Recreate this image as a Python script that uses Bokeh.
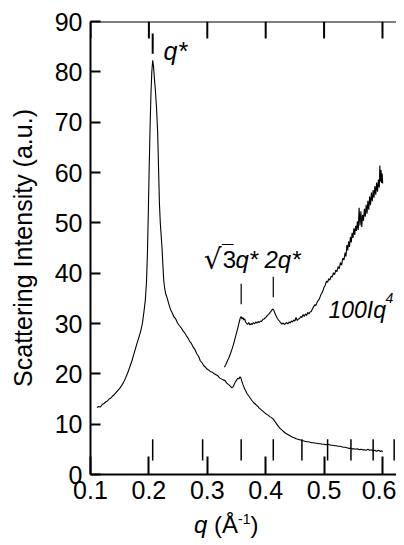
import math
from bokeh.plotting import figure
from bokeh.models import Label, Range1d, FixedTicker, Span, Div
from bokeh.layouts import column
from bokeh.embed import file_html
from bokeh.resources import INLINE

# ---- data ----
q_low = [0.1110, 0.1140, 0.1170, 0.1200, 0.1230, 0.1260, 0.1290, 0.1320, 0.1350, 0.1380,
         0.1410, 0.1440, 0.1470, 0.1500, 0.1530, 0.1560, 0.1590, 0.1620, 0.1650, 0.1680,
         0.1710, 0.1740, 0.1770, 0.1800, 0.1830, 0.1860, 0.1890, 0.1915, 0.1940, 0.1960,
         0.1975, 0.1990, 0.2005, 0.2020, 0.2035, 0.2050, 0.2065, 0.2080, 0.2095, 0.2110,
         0.2130, 0.2150, 0.2165, 0.2180, 0.2195, 0.2210, 0.2225, 0.2240, 0.2255, 0.2270,
         0.2290, 0.2315, 0.2340, 0.2370, 0.2400, 0.2430, 0.2460, 0.2490, 0.2520, 0.2550,
         0.2580, 0.2610, 0.2640, 0.2670, 0.2700, 0.2730, 0.2760, 0.2790, 0.2820, 0.2850,
         0.2880, 0.2910, 0.2940, 0.2970, 0.3000, 0.3030, 0.3060, 0.3090, 0.3120, 0.3150,
         0.3180, 0.3210, 0.3240, 0.3270, 0.3300, 0.3330, 0.3360, 0.3390, 0.3420, 0.3440,
         0.3460, 0.3480, 0.3500, 0.3520, 0.3540, 0.3560, 0.3575, 0.3590, 0.3610, 0.3630,
         0.3650, 0.3680, 0.3710, 0.3740, 0.3770, 0.3800, 0.3830, 0.3860, 0.3890, 0.3920,
         0.3950, 0.3980, 0.4010, 0.4040, 0.4070, 0.4100, 0.4130, 0.4160, 0.4190, 0.4220,
         0.4250, 0.4280, 0.4310, 0.4340, 0.4370, 0.4400, 0.4430, 0.4460, 0.4490, 0.4520,
         0.4550, 0.4580, 0.4610, 0.4640, 0.4670, 0.4700, 0.4730, 0.4760, 0.4790, 0.4820,
         0.4850, 0.4880, 0.4910, 0.4940, 0.4970, 0.5000, 0.5030, 0.5060, 0.5090, 0.5120,
         0.5150, 0.5180, 0.5210, 0.5240, 0.5270, 0.5300, 0.5330, 0.5360, 0.5390, 0.5420,
         0.5450, 0.5480, 0.5510, 0.5540, 0.5570, 0.5600, 0.5630, 0.5660, 0.5690, 0.5720,
         0.5750, 0.5780, 0.5810, 0.5840, 0.5870, 0.5900, 0.5930, 0.5960, 0.5990, 0.6003]
i_low = [13.3, 13.5, 13.4, 13.9, 14.1, 14.4, 14.6, 15.0, 15.2, 15.6,
         15.9, 16.3, 16.7, 17.1, 17.6, 18.2, 18.9, 19.7, 20.6, 21.6,
         22.6, 23.8, 25.0, 26.2, 27.3, 28.5, 30.1, 32.3, 34.8, 38.5,
         44.0, 52.0, 61.0, 69.0, 75.5, 80.0, 82.3, 81.0, 78.5, 76.5,
         73.0, 68.0, 61.0, 54.0, 50.0, 47.5, 45.0, 41.5, 38.5, 37.0,
         35.8, 35.0, 33.9, 32.8, 32.1, 31.3, 30.9, 30.1, 29.6, 29.2,
         28.6, 28.2, 27.6, 27.1, 26.4, 26.0, 25.3, 24.8, 24.0, 23.5,
         22.6, 22.2, 21.6, 21.3, 20.9, 20.7, 20.4, 20.3, 20.0, 19.8,
         19.6, 19.2, 19.0, 18.8, 18.7, 18.2, 17.9, 17.6, 17.2, 17.4,
         17.9, 18.4, 18.7, 19.1, 19.0, 19.4, 19.2, 18.6, 17.9, 17.3,
         16.8, 16.1, 15.6, 15.1, 14.6, 14.2, 13.9, 13.6, 13.2, 12.9,
         12.6, 12.3, 12.0, 11.8, 11.5, 11.3, 11.0, 10.5, 10.0, 9.5,
         9.1, 8.8, 8.5, 8.2, 8.0, 7.8, 7.6, 7.4, 7.3, 7.1,
         7.0, 6.9, 6.8, 6.7, 6.6, 6.5, 6.5, 6.4, 6.3, 6.3,
         6.2, 6.2, 6.1, 6.1, 6.0, 6.0, 5.9, 6.0, 5.9, 5.8,
         5.8, 5.7, 5.7, 5.6, 5.6, 5.5, 5.4, 5.4, 5.3, 5.2,
         5.2, 5.1, 5.1, 5.0, 5.1, 4.9, 5.0, 4.9, 4.9, 4.8,
         5.0, 4.8, 4.9, 4.7, 4.8, 4.6, 4.8, 4.6, 4.7, 4.5]

q_up = [0.3294, 0.3320, 0.3345, 0.3370, 0.3396, 0.3420, 0.3445, 0.3470, 0.3495, 0.3520,
        0.3545, 0.3565, 0.3580, 0.3595, 0.3610, 0.3625, 0.3640, 0.3655, 0.3670, 0.3690,
        0.3710, 0.3730, 0.3750, 0.3770, 0.3790, 0.3810, 0.3830, 0.3850, 0.3870, 0.3890,
        0.3910, 0.3930, 0.3950, 0.3970, 0.3990, 0.4010, 0.4030, 0.4050, 0.4070, 0.4090,
        0.4110, 0.4125, 0.4140, 0.4160, 0.4180, 0.4200, 0.4220, 0.4240, 0.4260, 0.4280,
        0.4300, 0.4320, 0.4340, 0.4360, 0.4380, 0.4400, 0.4420, 0.4440, 0.4460, 0.4480,
        0.4500, 0.4520, 0.4540, 0.4560, 0.4580, 0.4600, 0.4620, 0.4640, 0.4660, 0.4680,
        0.4700, 0.4720, 0.4740, 0.4760, 0.4780, 0.4800, 0.4820, 0.4840, 0.4860, 0.4880,
        0.4900, 0.4920, 0.4940, 0.4960, 0.4980, 0.5000, 0.5020, 0.5040, 0.5060, 0.5080,
        0.5100, 0.5120, 0.5140, 0.5160, 0.5180, 0.5200, 0.5220, 0.5240, 0.5260, 0.5280,
        0.5300, 0.5320, 0.5340, 0.5360, 0.5375, 0.5390, 0.5405, 0.5420, 0.5435, 0.5450,
        0.5465, 0.5480, 0.5495, 0.5510, 0.5525, 0.5540, 0.5555, 0.5570, 0.5585, 0.5600,
        0.5615, 0.5630, 0.5645, 0.5660, 0.5675, 0.5690, 0.5705, 0.5720, 0.5735, 0.5750,
        0.5765, 0.5780, 0.5795, 0.5810, 0.5825, 0.5840, 0.5855, 0.5870, 0.5885, 0.5900,
        0.5915, 0.5930, 0.5945, 0.5955, 0.5965, 0.5975, 0.5985, 0.5995, 0.6003]
i_up = [21.3, 21.9, 22.6, 23.2, 24.0, 24.8, 25.7, 26.8, 27.9, 29.0,
        30.2, 31.1, 31.4, 30.9, 31.2, 30.7, 30.9, 30.3, 30.1, 29.8,
        30.2, 29.7, 30.0, 29.8, 30.2, 29.9, 30.3, 30.1, 30.4, 30.2,
        30.5, 30.4, 30.8, 30.9, 31.1, 31.3, 31.6, 31.8, 32.1, 32.4,
        32.7, 32.9, 32.6, 32.0, 31.5, 31.0, 30.7, 30.4, 30.1, 29.9,
        30.1, 29.8, 30.0, 30.2, 29.9, 30.3, 30.1, 30.5, 30.3, 30.7,
        30.5, 31.2, 30.6, 30.9, 31.0, 31.4, 31.2, 31.8, 31.4, 31.9,
        31.6, 32.2, 31.9, 32.3, 32.4, 32.9, 33.3, 33.7, 33.6, 34.2,
        34.6, 34.9, 35.6, 36.0, 36.5, 37.2, 37.6, 38.4, 38.2, 38.9,
        38.6, 39.4, 39.2, 40.1, 39.7, 40.6, 40.3, 41.3, 40.9, 42.1,
        41.6, 43.0, 42.6, 44.1, 43.3, 45.6, 44.5, 46.3, 45.2, 47.2,
        46.1, 48.0, 47.0, 48.9, 47.6, 49.4, 48.4, 50.3, 48.6, 53.0,
        49.5, 52.3, 49.2, 51.6, 50.4, 52.8, 51.2, 53.6, 51.8, 54.4,
        52.6, 55.2, 53.5, 56.0, 54.3, 56.5, 55.0, 57.3, 55.6, 58.0,
        56.2, 58.6, 57.0, 61.4, 58.2, 60.5, 57.9, 59.8, 57.8]

# peak-position markers (q* * sqrt(n))
peak_q = [0.2065, 0.292, 0.358, 0.413, 0.462, 0.506, 0.546, 0.584, 0.620]
peak_lo = [2.8] * len(peak_q)
peak_hi = [7.0] * len(peak_q)
lab_q = [0.2065, 0.358, 0.413]
lab_lo = [83.6, 33.8, 35.2]
lab_hi = [87.6, 37.9, 39.3]

x_ticks = [0.1, 0.2, 0.3, 0.4, 0.5, 0.6]
y_ticks = [0, 10, 20, 30, 40, 50, 60, 70, 80, 90]
y_top = 90
top_tick_len = 3.38  # in intensity units (~17 px)

FONT = "Liberation Sans"

p = figure(width=396, height=506, x_range=Range1d(0.1, 0.624), y_range=Range1d(0, 90),
           output_backend="svg", toolbar_location=None,
           min_border_left=90, min_border_right=0, min_border_top=21, min_border_bottom=32)
p.outline_line_color = None
p.xgrid.grid_line_color = None
p.ygrid.grid_line_color = None
p.background_fill_color = "white"
p.border_fill_color = "white"

xb = p.xaxis[0]
xb.ticker = FixedTicker(ticks=x_ticks)
yl = p.yaxis[0]
yl.ticker = FixedTicker(ticks=y_ticks)
for ax, tin, so in [(xb, 18, 6), (yl, 10, 8)]:
    ax.major_tick_in = tin
    ax.major_tick_out = 0
    ax.minor_tick_line_color = None
    ax.major_tick_line_width = 2
    ax.major_tick_line_color = "black"
    ax.axis_line_width = 2
    ax.axis_line_color = "black"
    ax.major_label_text_font = FONT
    ax.major_label_text_font_size = "25px"
    ax.major_label_text_color = "black"
    ax.major_label_standoff = so

yl.axis_label = "Scattering Intensity (a.u.)"
yl.axis_label_text_font = FONT
yl.axis_label_text_font_style = "normal"
yl.axis_label_text_font_size = "25px"
yl.axis_label_text_color = "black"
yl.axis_label_standoff = 15

# top spine and inward top ticks
p.add_layout(Span(location=y_top, dimension="width", line_color="black", line_width=2))
p.segment(x0=x_ticks, y0=[y_top] * len(x_ticks), x1=x_ticks,
          y1=[y_top - top_tick_len] * len(x_ticks), line_color="black", line_width=2)

# curves
p.line(q_low, i_low, line_color="black", line_width=1.1)
p.line(q_up, i_up, line_color="black", line_width=1.1)

# peak markers
p.segment(x0=peak_q, y0=peak_lo, x1=peak_q, y1=peak_hi, line_color="black", line_width=1.5)
p.segment(x0=lab_q, y0=lab_lo, x1=lab_q, y1=lab_hi, line_color="black",
          line_width=[2, 1.2, 1.2])

# annotations
def lab(x, y, text, size, italic=True, font=FONT):
    l = Label(x=x, y=y, text=text, text_font=font, text_font_size=size,
              text_font_style="italic" if italic else "normal", text_color="black",
              text_baseline="alphabetic", text_align="left")
    p.add_layout(l)
    return l

lab(0.2250, 84.2, "q*", "25px")
lab(0.2940, 42.8, "\u221a", "28px", italic=False, font="DejaVu Sans")
lab(0.3265, 42.8, "3", "24px", italic=False)
p.segment(x0=[0.3250], y0=[45.7], x1=[0.3450], y1=[45.7], line_color="black", line_width=1.2)
lab(0.3483, 42.8, "q*", "24px")
lab(0.3979, 42.8, "2q*", "24px")
lab(0.5075, 32.7, "100Iq", "23px")
lab(0.6051, 35.1, "4", "14px")

# x axis title (below the figure, as real text)
xtitle = Div(
    text=("<div style=\"font-family:'Liberation Sans';font-size:24px;line-height:31px;"
          "padding-top:3px;color:black;margin-left:194px;white-space:nowrap\">"
          "<i>q</i> (\u00c5<sup style=\"font-size:14px;line-height:0\">-1</sup>)</div>"),
    width=396, height=31, margin=(0, 0, 0, 0))

layout = column(p, xtitle, spacing=0)
open("out.html", "w").write(file_html(layout, INLINE))
